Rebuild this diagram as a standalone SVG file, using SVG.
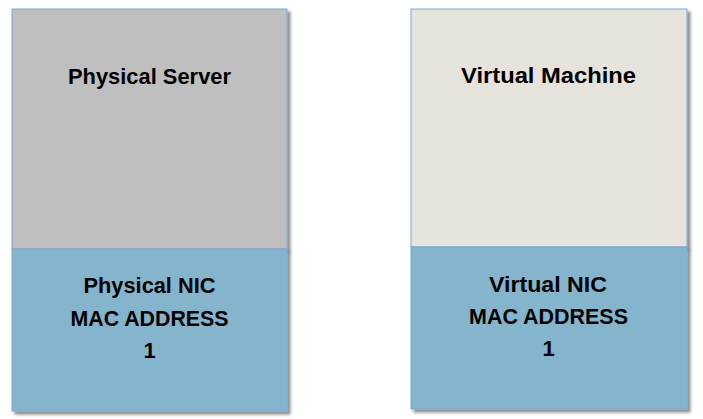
<svg xmlns="http://www.w3.org/2000/svg" width="703" height="419" viewBox="0 0 703 419">
<defs>
<filter id="sh" x="-10%" y="-10%" width="130%" height="130%">
<feDropShadow dx="3" dy="3" stdDeviation="1.8" flood-color="#000" flood-opacity="0.45"/>
</filter>
</defs>
<style>
.box{stroke:#7AA6D6;stroke-width:1}
.srv{fill:#BFBFBF}
.vm{fill:#E6E3DD}
.nic{fill:#85B5CC}
.t{font-family:"Liberation Sans",Arial,sans-serif;font-weight:bold;font-size:22px;fill:#000;text-anchor:middle}
</style>
<rect width="703" height="419" fill="#fff"/>
<g id="physical-server">
<rect class="box srv" x="12" y="9" width="275" height="240" filter="url(#sh)"/>
<text class="t" x="149.5" y="84" textLength="163" lengthAdjust="spacingAndGlyphs">Physical Server</text>
</g>
<g id="physical-nic">
<rect class="box nic" x="12" y="249" width="275" height="162" filter="url(#sh)"/>
<text class="t" x="149.5" y="293" textLength="132" lengthAdjust="spacingAndGlyphs">Physical NIC</text>
<text class="t" x="149.5" y="325.5" textLength="158" lengthAdjust="spacingAndGlyphs">MAC ADDRESS</text>
<text class="t" x="149.5" y="358">1</text>
</g>
<g id="virtual-machine">
<rect class="box vm" x="411" y="9" width="276" height="238" filter="url(#sh)"/>
<text class="t" x="548.5" y="83" textLength="175" lengthAdjust="spacingAndGlyphs">Virtual Machine</text>
</g>
<g id="virtual-nic">
<rect class="box nic" x="411" y="247" width="276" height="162" filter="url(#sh)"/>
<text class="t" x="548" y="291.5" textLength="118" lengthAdjust="spacingAndGlyphs">Virtual NIC</text>
<text class="t" x="548.5" y="323.5" textLength="159" lengthAdjust="spacingAndGlyphs">MAC ADDRESS</text>
<text class="t" x="548.5" y="356">1</text>
</g>
<g id="connectors"></g>
</svg>
